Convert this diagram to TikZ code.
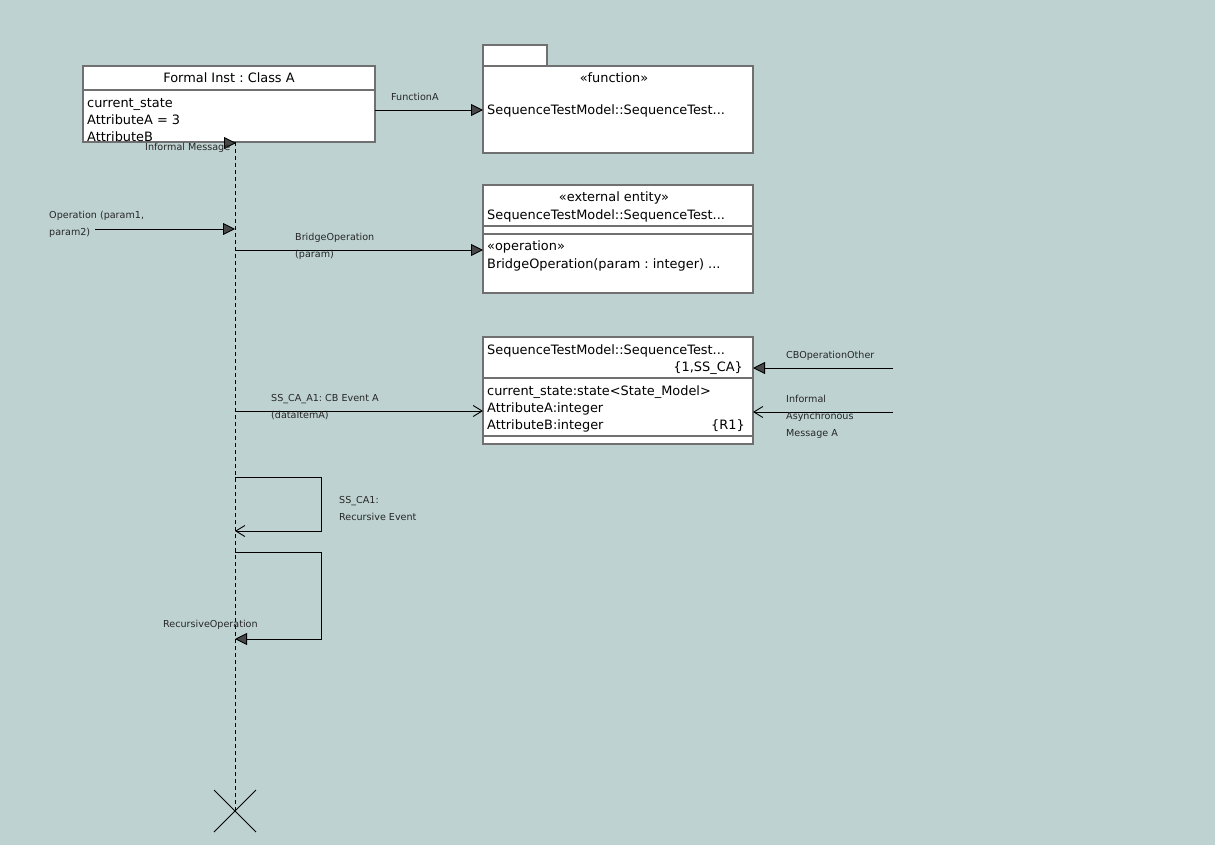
\documentclass[tikz,border=0pt]{standalone}
\usepackage{fontspec}
\setmainfont{DejaVu Sans}
\usetikzlibrary{arrows.meta}
\definecolor{bg}{RGB}{190,211,209}
\definecolor{bord}{RGB}{112,112,112}
\definecolor{headfill}{RGB}{72,72,72}
\frenchspacing
\begin{document}
\frenchspacing
\begin{tikzpicture}[x=1pt,y=-1pt,
  box/.style={draw=bord, fill=white, line width=1.2pt, anchor=north west, inner sep=0pt, outer sep=0pt},
  sep/.style={draw=bord, line width=1.2pt},
  big/.style={font=\fontsize{12.9}{17}\selectfont\frenchspacing, inner sep=0pt, anchor=base west},
  bigc/.style={font=\fontsize{12.9}{17}\selectfont\frenchspacing, inner sep=0pt, anchor=base},
  bigr/.style={font=\fontsize{12.9}{17}\selectfont\frenchspacing, inner sep=0pt, anchor=base east},
  small/.style={font=\fontsize{9.6}{12}\selectfont\frenchspacing, inner sep=0pt, anchor=base west, text=black!85},
  msg/.style={line width=0.9pt},
  fhead/.style={-{Triangle[length=12pt,width=12pt,fill=headfill]}},
  ohead/.style={-{Straight Barb[length=9pt,width=11pt]}},
  lifeline/.style={line width=0.9pt, dash pattern=on 4pt off 3pt},
]
\useasboundingbox (0,0) rectangle (1231,861);
\fill[white] (0,0) rectangle (1231,861);
\fill[bg] (0,0) rectangle (1215,845);

% ---- Class A instance box
\node[box, minimum width=292pt, minimum height=76pt] (classA) at (83,66) {};
\draw[sep] (83,90) -- (375,90);
\node[bigc] (ttlA) at (229,83) {Formal Inst : Class A};
\node[big] (a1) at (87,108) {current\_state};
\node[big] (a2) at (87,125) {AttributeA = 3};
\node[big] (a3) at (87,142) {AttributeB};

% ---- Function box
\node[box, minimum width=64pt, minimum height=21pt] (tab) at (483,45) {};
\node[box, minimum width=270pt, minimum height=87pt] (func) at (483,66) {};
\node[bigc] (fst) at (614,83) {«function»};
\node[big] (fnm) at (487,115) {SequenceTestModel::SequenceTest...};

% ---- External entity box
\node[box, minimum width=270pt, minimum height=108pt] (ext) at (483,185) {};
\draw[sep] (483,226) -- (753,226);
\draw[sep] (483,234) -- (753,234);
\node[bigc] (est) at (614,202) {«external entity»};
\node[big] (enm) at (487,219) {SequenceTestModel::SequenceTest...};
\node[big] (eop) at (487,251) {«operation»};
\node[big] (eopn) at (487,268) {BridgeOperation(param : integer) ...};

% ---- Class box
\node[box, minimum width=270pt, minimum height=107pt] (cls) at (483,337) {};
\draw[sep] (483,378) -- (753,378);
\draw[sep] (483,436) -- (753,436);
\node[big] (cnm) at (487,354) {SequenceTestModel::SequenceTest...};
\node[bigr] (ckl) at (743,371) {\{1,SS\_CA\}};
\node[big] (c1) at (487,395) {current\_state:state<State\_Model>};
\node[big] (c2) at (487,412) {AttributeA:integer};
\node[big] (c3) at (487,429) {AttributeB:integer};
\node[bigr] (cr1) at (745,429) {\{R1\}};

% ---- Lifeline
\coordinate (lltop) at (235,142);
\coordinate (llend) at (235,811);
\draw[lifeline] (lltop) -- (llend);
\draw[line width=1pt] (llend) ++(-21,-21) -- ++(42,42);
\draw[line width=1pt] (llend) ++(21,-21) -- ++(-42,42);

% ---- Informal Message (head only at top of lifeline)
\coordinate (im) at (236,143);
\draw[msg, fhead] (im) ++(-12.5,0) -- (im);
\node[small] (imL) at (145,150.5) {Informal Message};

% ---- FunctionA
\draw[msg, fhead] (classA.east |- 0,110) -- (func.west |- 0,110);
\node[small] (faL) at (391,100.5) {FunctionA};

% ---- Operation (param1, param2)
\coordinate (opsrc) at (95,229);
\coordinate (op) at (235,229);
\draw[msg, fhead] (opsrc) -- (op);
\node[small] (opL1) at (49,218.5) {Operation (param1,};
\node[small] (opL2) at (49,235.5) {param2)};

% ---- BridgeOperation
\coordinate (br) at (235,250);
\draw[msg, fhead] (br) -- (br -| ext.west);
\node[small] (brL1) at (295,240.5) {BridgeOperation};
\node[small] (brL2) at (295,257.5) {(param)};

% ---- SS_CA_A1 event
\coordinate (ev) at (235,411);
\draw[msg, ohead] (ev) -- (ev -| cls.west);
\node[small] (evL1) at (271,401.5) {SS\_CA\_A1: CB Event A};
\node[small] (evL2) at (271,418.5) {(dataItemA)};

% ---- CBOperationOther
\coordinate (cbsrc) at (893,368);
\draw[msg, fhead] (cbsrc) -- (cbsrc -| cls.east);
\node[small] (cbL) at (786,358.5) {CBOperationOther};

% ---- Informal Asynchronous Message A
\coordinate (iasrc) at (893,412);
\draw[msg, ohead] (iasrc) -- (iasrc -| cls.east);
\node[small] (iaL1) at (786,402.5) {Informal};
\node[small] (iaL2) at (786,419.5) {Asynchronous};
\node[small] (iaL3) at (786,436.5) {Message A};

% ---- Recursive event loop
\coordinate (l1s) at (235,477);
\coordinate (l1e) at (235,531);
\draw[msg, ohead] (l1s) -- ++(86,0) |- (l1e);
\node[small] (l1L1) at (339,503.5) {SS\_CA1:};
\node[small] (l1L2) at (339,520.5) {Recursive Event};

% ---- Recursive operation loop
\coordinate (l2s) at (235,552);
\coordinate (l2e) at (235,639);
\draw[msg, fhead] (l2s) -- ++(86,0) |- (l2e);
\node[small] (l2L) at (163,627.5) {RecursiveOperation};
\end{tikzpicture}
\end{document}
